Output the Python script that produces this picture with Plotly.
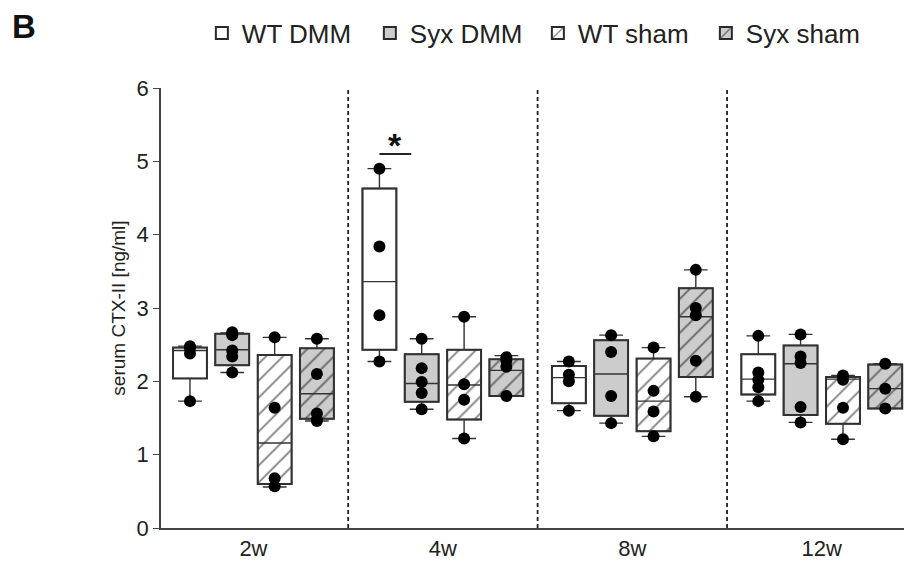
import plotly.graph_objects as go

# ---------------- data ----------------
weeks = ["2w", "4w", "8w", "12w"]
conditions = ["WT DMM", "Syx DMM", "WT sham", "Syx sham"]

# box statistics per condition, one value per week (2w, 4w, 8w, 12w)
q1 = {
    "WT DMM":   [2.04, 2.43, 1.70, 1.82],
    "Syx DMM":  [2.22, 1.72, 1.53, 1.54],
    "WT sham":  [0.60, 1.48, 1.32, 1.42],
    "Syx sham": [1.49, 1.80, 2.06, 1.63],
}
median = {
    "WT DMM":   [2.42, 3.36, 2.05, 2.03],
    "Syx DMM":  [2.43, 1.97, 2.10, 2.24],
    "WT sham":  [1.16, 1.95, 1.73, 2.03],
    "Syx sham": [1.83, 2.15, 2.88, 1.90],
}
q3 = {
    "WT DMM":   [2.46, 4.63, 2.21, 2.37],
    "Syx DMM":  [2.65, 2.37, 2.56, 2.49],
    "WT sham":  [2.36, 2.43, 2.31, 2.06],
    "Syx sham": [2.45, 2.30, 3.27, 2.23],
}
low = {
    "WT DMM":   [1.73, 2.27, 1.60, 1.73],
    "Syx DMM":  [2.12, 1.62, 1.43, 1.44],
    "WT sham":  [0.56, 1.22, 1.25, 1.21],
    "Syx sham": [1.46, 1.80, 1.79, 1.63],
}
high = {
    "WT DMM":   [2.48, 4.90, 2.27, 2.62],
    "Syx DMM":  [2.66, 2.58, 2.63, 2.64],
    "WT sham":  [2.60, 2.88, 2.46, 2.08],
    "Syx sham": [2.58, 2.35, 3.52, 2.24],
}
# individual observations per condition and week
points = {
    "WT DMM":   [[2.48, 2.45, 2.38, 1.73], [4.90, 3.84, 2.90, 2.27],
                 [2.27, 2.09, 2.00, 1.60], [2.62, 2.12, 2.02, 1.92, 1.73]],
    "Syx DMM":  [[2.67, 2.63, 2.42, 2.34, 2.12], [2.58, 2.18, 1.99, 1.84, 1.62],
                 [2.63, 2.40, 1.80, 1.43], [2.64, 2.34, 2.25, 1.65, 1.44]],
    "WT sham":  [[2.60, 1.64, 0.68, 0.57], [2.88, 1.96, 1.75, 1.22],
                 [2.46, 1.87, 1.59, 1.25], [2.08, 2.02, 1.64, 1.21]],
    "Syx sham": [[2.58, 2.10, 1.56, 1.48, 1.46], [2.33, 2.28, 2.20, 1.80],
                 [3.52, 3.00, 2.90, 2.28, 1.79], [2.24, 1.90, 1.63]],
}

# ---------------- style ----------------
fills = {"WT DMM": "white", "Syx DMM": "#cccccc", "WT sham": "white", "Syx sham": "#cccccc"}
hatched = {"WT DMM": False, "Syx DMM": False, "WT sham": True, "Syx sham": True}
offsets = [-0.335, -0.112, 0.112, 0.335]
box_w = 0.179
FONT = "Liberation Sans, Arial, sans-serif"

fig = go.Figure()

# fills (with hatching) as floating bars
for ci, c in enumerate(conditions):
    xs = [gi + offsets[ci] for gi in range(len(weeks))]
    pattern = dict(shape="/", fgcolor="#000000", size=12, solidity=0.15, fillmode="overlay") if hatched[c] else dict(shape="")
    fig.add_trace(go.Bar(
        x=xs, base=q1[c], y=[b - a for a, b in zip(q1[c], q3[c])],
        width=box_w, name=c, showlegend=True,
        marker=dict(color=fills[c], line=dict(color="#2a2a2a", width=2), pattern=pattern),
        hoverinfo="skip",
    ))

# box outlines, medians, whiskers
for ci, c in enumerate(conditions):
    xs = [gi + offsets[ci] for gi in range(len(weeks))]
    fig.add_trace(go.Box(
        x=xs, q1=q1[c], median=median[c], q3=q3[c], lowerfence=low[c], upperfence=high[c],
        width=box_w, whiskerwidth=0.7, boxpoints=False,
        fillcolor="rgba(0,0,0,0)", line=dict(color="#333333", width=1.4),
        showlegend=False, hoverinfo="skip",
    ))

# individual dots
for ci, c in enumerate(conditions):
    px, py = [], []
    for gi in range(len(weeks)):
        for v in points[c][gi]:
            px.append(gi + offsets[ci])
            py.append(v)
    fig.add_trace(go.Scatter(
        x=px, y=py, mode="markers", showlegend=False,
        marker=dict(color="black", size=12, line=dict(width=0)),
        hoverinfo="skip",
    ))

# dashed separators between weeks
for s in [0.5, 1.5, 2.5]:
    fig.add_shape(type="line", xref="x", yref="y", x0=s, x1=s, y0=0, y1=6,
                  line=dict(color="#222222", width=1.8, dash="4px,3px"))

# significance marker (4w WT DMM vs Syx DMM)
sig_x0 = 1 + offsets[0]
sig_x1 = 1 + offsets[1] - 0.055
fig.add_shape(type="line", xref="x", yref="y", x0=sig_x0, x1=sig_x1, y0=5.1, y1=5.1,
              line=dict(color="#222222", width=1.8))
fig.add_annotation(x=(sig_x0 + sig_x1) / 2, y=4.94, xref="x", yref="y", text="<b>*</b>",
                   showarrow=False, yanchor="bottom", font=dict(size=34, color="#111111", family=FONT))

# panel letter
fig.add_annotation(x=-0.203, y=1.14, xref="paper", yref="paper", text="<b>B</b>",
                   showarrow=False, xanchor="left", yanchor="middle",
                   font=dict(size=33, color="#111111", family=FONT))

fig.update_layout(
    width=906, height=564,
    margin=dict(l=161, r=2, t=88, b=36),
    paper_bgcolor="white", plot_bgcolor="white",
    barmode="overlay", boxmode="overlay",
    font=dict(family=FONT, size=19, color="#222222"),
    showlegend=True,
    legend=dict(orientation="h", x=0.055, y=1.125, xanchor="left", yanchor="middle",
                entrywidth=123, entrywidthmode="pixels",
                font=dict(size=26, family=FONT, color="#222222"),
                bgcolor="rgba(0,0,0,0)", itemclick=False, itemdoubleclick=False),
    xaxis=dict(range=[-0.488, 3.434], tickvals=list(range(len(weeks))), ticktext=weeks,
               showline=True, linecolor="#444444", linewidth=1.6, ticks="",
               showgrid=False, zeroline=False, tickfont=dict(size=22), fixedrange=True),
    yaxis=dict(range=[0, 6], dtick=1, showline=True, linecolor="#444444", linewidth=1.6,
               ticks="outside", ticklen=6, tickwidth=1.3, tickcolor="#444444",
               showgrid=False, zeroline=False, tickfont=dict(size=22),
               title=dict(text="serum CTX-II [ng/ml]", font=dict(size=19), standoff=6),
               fixedrange=True),
)

fig.write_html("out.html")
